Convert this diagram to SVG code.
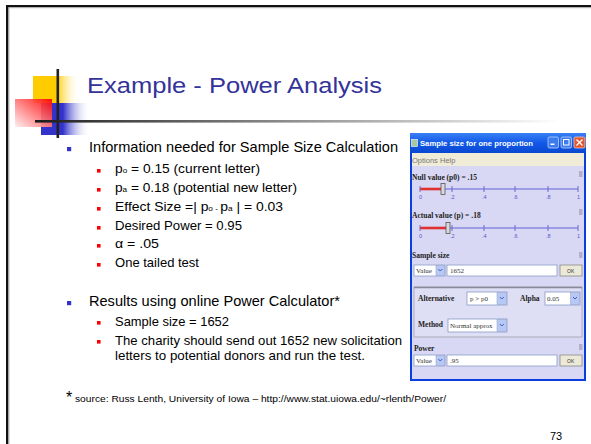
<svg xmlns="http://www.w3.org/2000/svg" width="591" height="444" viewBox="0 0 591 444">
<defs>
<style>
.t{font-family:"Liberation Sans",Arial,sans-serif}
.title{font-size:22px;fill:#333399}
.b1{font-size:14.5px;fill:#000}
.b2{font-size:13.5px;fill:#000}
.sub{font-size:8px}
.w{font-family:"Liberation Serif","Times New Roman",serif;font-weight:bold;font-size:7.5px;fill:#222}
.wn{font-family:"Liberation Serif","Times New Roman",serif;font-size:7px;fill:#333}
.tick{font-family:"Liberation Sans",Arial,sans-serif;font-size:5.5px;fill:#5555cc}
.fld{fill:#fff;stroke:#8a9cc8;stroke-width:0.8}
.arr{fill:#b8c8f4;stroke:#8a9cc8;stroke-width:0.5}
.okb{fill:#ece9d8;stroke:#8a8a8a;stroke-width:0.8}
.trk{stroke:#8a8ae0;stroke-width:1.4}
.red{stroke:#e03030;stroke-width:2.6}
.tk{stroke:#6a6ad0;stroke-width:1}
.hdl{fill:#b0b0c8}
</style>
<linearGradient id="gY" x1="0" y1="0" x2="1" y2="0">
<stop offset="0" stop-color="#ffcc00"/><stop offset="0.5" stop-color="#ffcc00"/><stop offset="1" stop-color="#ffffff" stop-opacity="0"/>
</linearGradient>
<linearGradient id="gB" x1="0" y1="0" x2="1" y2="0">
<stop offset="0" stop-color="#3333cc"/><stop offset="0.45" stop-color="#3333cc"/><stop offset="1" stop-color="#ffffff" stop-opacity="0"/>
</linearGradient>
<linearGradient id="gR" x1="1" y1="0" x2="0" y2="1">
<stop offset="0" stop-color="#ff0000"/><stop offset="1" stop-color="#ffeef0"/>
</linearGradient>
<linearGradient id="gL" x1="0" y1="0" x2="1" y2="0">
<stop offset="0" stop-color="#1a1a1a"/><stop offset="0.15" stop-color="#444"/><stop offset="1" stop-color="#ffffff"/>
</linearGradient>
<linearGradient id="gT" x1="0" y1="0" x2="0" y2="1">
<stop offset="0" stop-color="#3a80f4"/><stop offset="0.5" stop-color="#1158e8"/><stop offset="1" stop-color="#0a48d0"/>
</linearGradient>
</defs>
<rect width="591" height="444" fill="#fff"/>
<g id="frame">
<rect x="6" y="5" width="585" height="2.2" fill="#111"/>
<rect x="8" y="7.2" width="583" height="1" fill="#aaa"/>
<rect x="6" y="5" width="2.4" height="439" fill="#111"/>
<rect x="8.4" y="7.2" width="1" height="437" fill="#aaa"/>
</g>
<g id="logo">
<rect x="33" y="76" width="47" height="27" fill="url(#gY)"/>
<rect x="41" y="103" width="49" height="32" fill="url(#gB)"/>
<rect x="15" y="99" width="37" height="28" fill="url(#gR)" opacity="0.92"/>
<rect x="56.5" y="69" width="2.6" height="69" fill="#222"/>
<rect x="35" y="120" width="525" height="2.6" fill="url(#gL)"/>
</g>
<g id="title">
<text class="t title" x="87" y="93" textLength="295" lengthAdjust="spacingAndGlyphs">Example - Power Analysis</text>
</g>
<g id="bullets">
<rect x="67" y="147" width="4.2" height="4.2" fill="#3333cc"/>
<text class="t b1" x="89" y="152" textLength="309" lengthAdjust="spacingAndGlyphs">Information needed for Sample Size Calculation</text>
<rect x="97" y="169" width="3.6" height="3.6" fill="#ff0000"/>
<text class="t b2" x="115" y="173" textLength="145" lengthAdjust="spacingAndGlyphs">p<tspan class="sub">o</tspan> = 0.15 (current letter)</text>
<rect x="97" y="188" width="3.6" height="3.6" fill="#ff0000"/>
<text class="t b2" x="115" y="192" textLength="182" lengthAdjust="spacingAndGlyphs">p<tspan class="sub">a</tspan> = 0.18 (potential new letter)</text>
<rect x="97" y="207" width="3.6" height="3.6" fill="#ff0000"/>
<text class="t b2" x="115" y="211" textLength="168" lengthAdjust="spacingAndGlyphs">Effect Size =| p<tspan class="sub">o</tspan><tspan class="sub"> - </tspan>p<tspan class="sub">a</tspan> | = 0.03</text>
<rect x="97" y="226" width="3.6" height="3.6" fill="#ff0000"/>
<text class="t b2" x="115" y="230" textLength="127" lengthAdjust="spacingAndGlyphs">Desired Power = 0.95</text>
<rect x="97" y="244" width="3.6" height="3.6" fill="#ff0000"/>
<text class="t b2" x="115" y="248" textLength="44" lengthAdjust="spacingAndGlyphs">α = .05</text>
<rect x="97" y="263" width="3.6" height="3.6" fill="#ff0000"/>
<text class="t b2" x="115" y="267" textLength="84" lengthAdjust="spacingAndGlyphs">One tailed test</text>
<rect x="67" y="301" width="4.2" height="4.2" fill="#3333cc"/>
<text class="t b1" x="89" y="306" textLength="251" lengthAdjust="spacingAndGlyphs">Results using online Power Calculator*</text>
<rect x="97" y="321" width="3.6" height="3.6" fill="#ff0000"/>
<text class="t b2" x="115" y="326" textLength="114" lengthAdjust="spacingAndGlyphs">Sample size = 1652</text>
<rect x="97" y="340" width="3.6" height="3.6" fill="#ff0000"/>
<text class="t b2" x="115" y="345" textLength="287" lengthAdjust="spacingAndGlyphs">The charity should send out 1652 new solicitation</text>
<text class="t b2" x="115" y="360" textLength="250" lengthAdjust="spacingAndGlyphs">letters to potential donors and run the test.</text>
</g>
<g id="footnote">
<text class="t" x="66" y="403" font-size="16" fill="#000">*</text>
<text class="t" x="75" y="402" font-size="9" fill="#000" textLength="371" lengthAdjust="spacingAndGlyphs">source: Russ Lenth, University of Iowa – http://www.stat.uiowa.edu/~rlenth/Power/</text>
</g>
<g id="page-number">
<text class="t" x="550" y="440" font-size="11" fill="#000">73</text>
</g>
<g id="calculator-window">
<rect x="410" y="133" width="176" height="248" fill="#0b3ee0"/>
<rect x="410" y="133" width="176" height="20" fill="url(#gT)"/>
<rect x="412" y="153" width="172" height="226" fill="#d8d8f4"/>
<rect x="412" y="153" width="172" height="13" fill="#f0ecd8"/>
<rect x="411.5" y="139.5" width="6" height="7" fill="#a8c8a0" stroke="#fff" stroke-width="0.6"/>
<text class="t" x="420" y="145.5" font-size="8" font-weight="bold" fill="#fff" textLength="113" lengthAdjust="spacingAndGlyphs">Sample size for one proportion</text>
<rect x="548" y="137" width="10.5" height="11" rx="1.5" fill="#3c7cf0" stroke="#cfe0ff" stroke-width="0.7"/>
<rect x="561" y="137" width="10.5" height="11" rx="1.5" fill="#3c7cf0" stroke="#cfe0ff" stroke-width="0.7"/>
<rect x="574" y="137" width="11" height="11" rx="1.5" fill="#e2582e" stroke="#ffd8c8" stroke-width="0.7"/>
<rect x="550.5" y="143.5" width="4" height="1.5" fill="#fff"/>
<rect x="563.5" y="139.5" width="5.5" height="5.5" fill="none" stroke="#fff" stroke-width="1"/>
<path d="M576.5 139.5l6 6m0-6l-6 6" stroke="#fff" stroke-width="1.4"/>
<text class="t" x="412" y="162.5" font-size="7.5" fill="#777">Options</text>
<text class="t" x="440" y="162.5" font-size="7.5" fill="#777">Help</text>
<text class="w" x="412" y="180">Null value (p0) = .15</text>
<rect class="hdl" x="579" y="171" width="3.5" height="6"/>
<line class="trk" x1="420" y1="189" x2="578" y2="189"/>
<line class="red" x1="420" y1="189" x2="443" y2="189"/>
<g class="tk"><line x1="420" y1="186" x2="420" y2="192"/><line x1="452" y1="186" x2="452" y2="192"/><line x1="484" y1="186" x2="484" y2="192"/><line x1="515" y1="186" x2="515" y2="192"/><line x1="548" y1="186" x2="548" y2="192"/><line x1="578" y1="186" x2="578" y2="192"/></g>
<rect x="441" y="183.5" width="4" height="11" fill="#d8d8e0" stroke="#555" stroke-width="0.8"/>
<g class="tick"><text x="419" y="199">0</text><text x="450" y="199">.2</text><text x="482" y="199">.4</text><text x="513" y="199">.6</text><text x="546" y="199">.8</text><text x="577" y="199">1</text></g>
<text class="w" x="412" y="218">Actual value (p) = .18</text>
<rect class="hdl" x="579" y="209" width="3.5" height="6"/>
<line class="trk" x1="420" y1="228" x2="578" y2="228"/>
<line class="red" x1="420" y1="228" x2="448" y2="228"/>
<g class="tk"><line x1="420" y1="225" x2="420" y2="231"/><line x1="452" y1="225" x2="452" y2="231"/><line x1="484" y1="225" x2="484" y2="231"/><line x1="515" y1="225" x2="515" y2="231"/><line x1="548" y1="225" x2="548" y2="231"/><line x1="578" y1="225" x2="578" y2="231"/></g>
<rect x="446" y="222.5" width="4" height="11" fill="#d8d8e0" stroke="#555" stroke-width="0.8"/>
<g class="tick"><text x="419" y="238">0</text><text x="450" y="238">.2</text><text x="482" y="238">.4</text><text x="513" y="238">.6</text><text x="546" y="238">.8</text><text x="577" y="238">1</text></g>
<text class="w" x="412" y="258">Sample size</text>
<rect class="hdl" x="579" y="252" width="3.5" height="6"/>
<rect class="fld" x="414" y="265" width="31" height="11"/>
<rect class="arr" x="436" y="265.5" width="8.5" height="10"/>
<path d="M438.3 269l2 2 2-2" fill="none" stroke="#3050c0" stroke-width="0.9"/>
<text class="wn" x="416" y="273">Value</text>
<rect class="fld" x="447" y="265" width="110" height="11"/>
<text class="wn" x="450" y="273">1652</text>
<rect class="okb" x="560" y="265" width="22" height="11"/>
<text class="t" x="567" y="272.5" font-size="5" fill="#333">OK</text>
<rect x="414" y="287" width="168" height="50" fill="#dedef4" stroke="#a0a0b0" stroke-width="0.8"/>
<line x1="414" y1="287.5" x2="582" y2="287.5" stroke="#8a8a9a" stroke-width="1.4"/>
<text class="w" x="418" y="301">Alternative</text>
<rect class="fld" x="467" y="292" width="40" height="13"/>
<rect class="arr" x="497" y="292.5" width="9.5" height="12"/>
<path d="M499.8 297l2 2 2-2" fill="none" stroke="#3050c0" stroke-width="0.9"/>
<text class="wn" x="470" y="301">p &gt; p0</text>
<text class="w" x="520" y="301">Alpha</text>
<rect class="fld" x="545" y="292" width="35" height="13"/>
<rect class="arr" x="570.5" y="292.5" width="9" height="12"/>
<path d="M573 297l2 2 2-2" fill="none" stroke="#3050c0" stroke-width="0.9"/>
<text class="wn" x="547" y="301">0.05</text>
<text class="w" x="418" y="327">Method</text>
<rect class="fld" x="448" y="319" width="59" height="13"/>
<rect class="arr" x="497" y="319.5" width="9.5" height="12"/>
<path d="M499.8 324l2 2 2-2" fill="none" stroke="#3050c0" stroke-width="0.9"/>
<text class="wn" x="450" y="328">Normal approx</text>
<text class="w" x="414" y="351">Power</text>
<rect class="hdl" x="579" y="344" width="3.5" height="6"/>
<rect class="fld" x="414" y="355" width="31" height="11"/>
<rect class="arr" x="436" y="355.5" width="8.5" height="10"/>
<path d="M438.3 359l2 2 2-2" fill="none" stroke="#3050c0" stroke-width="0.9"/>
<text class="wn" x="416" y="363">Value</text>
<rect class="fld" x="447" y="355" width="110" height="11"/>
<text class="wn" x="450" y="363">.95</text>
<rect class="okb" x="560" y="355" width="22" height="11"/>
<text class="t" x="567" y="362.5" font-size="5" fill="#333">OK</text>
</g>
</svg>
